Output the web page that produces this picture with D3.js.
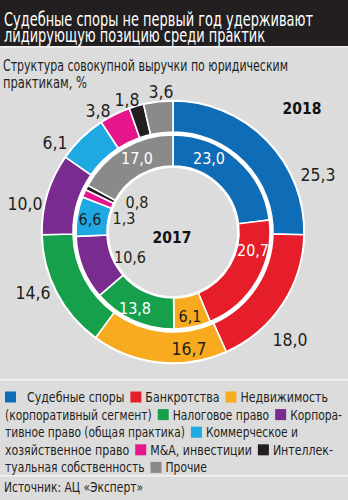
<!DOCTYPE html>
<html><head><meta charset="utf-8">
<script src="https://cdn.jsdelivr.net/npm/d3@7/dist/d3.min.js"></script>
<style>
body{margin:0;background:#dcdcdc}
svg{display:block}
text{font-family:"Liberation Sans Narrow","DejaVu Sans Condensed","Roboto",sans-serif}
</style></head>
<body>
<svg id="chart" width="348" height="500"></svg>
<script>
// ---- data ----
const categories = ["Судебные споры","Банкротства","Недвижимость (корпоративный сегмент)","Налоговое право","Корпоративное право (общая практика)","Коммерческое и хозяйственное право","M&A, инвестиции","Интеллектуальная собственность","Прочие"];
const colors = ["#0f6cb6","#e61e2a","#f8ab1e","#17a04c","#7a2b8f","#1ea9e3","#e5168b","#231f20","#8a8a8a"];
const values2018 = [25.3,18.0,16.7,14.6,10.0,6.1,3.8,1.8,3.6];
const values2017 = [23.0,20.7,6.1,13.8,10.6,6.6,1.3,0.8,17.0];
const years = ["2018","2017"];

// ---- layout constants ----
const W=348,H=500, cx=173, cy=232;
const outerR=[100,131], innerR=[66,97];
const fmt = v => d3.format(".1f")(v).replace(".",",");
// label centres (layout)
const lab2018 = [[318,175],[290,340],[189,349],[33,293],[25,204],[55,143],[98,111],[127,100],[161,92]];
const lab2017 = [[209,158],[253,250],[190,316],[135,308],[130,257],[90,219],[124,218],[137,202],[137,158]];
const labColor2018 = ["#231f20","#231f20","#231f20","#231f20","#231f20","#231f20","#231f20","#231f20","#231f20"];
const labColor2017 = ["#fff","#fff","#231f20","#fff","#231f20","#231f20","#231f20","#231f20","#fff"];

const svg = d3.select("#chart");
svg.append("rect").attr("width",W).attr("height",H).attr("fill","#dcdcdc");
svg.append("rect").attr("width",W).attr("height",46).attr("fill","#231f20");
svg.append("rect").attr("y",46).attr("width",W).attr("height",1.5).attr("fill","#f2f2f2");

const title = ["Судебные споры не первый год удерживают","лидирующую позицию среди практик"];
svg.selectAll(".t").data(title).enter().append("text")
  .attr("x",4).attr("y",(d,i)=>25.5+i*16.5)
  .attr("fill","#fff").attr("font-size",19.5)
  .attr("textLength",(d,i)=>[309,261][i]).attr("lengthAdjust","spacingAndGlyphs")
  .text(d=>d);

const sub = ["Структура совокупной выручки по юридическим","практикам, %"];
svg.selectAll(".s").data(sub).enter().append("text")
  .attr("x",3).attr("y",(d,i)=>71+i*16.5)
  .attr("fill","#231f20").attr("font-size",16)
  .attr("textLength",(d,i)=>[285,84][i]).attr("lengthAdjust","spacingAndGlyphs")
  .text(d=>d);

// ---- donut ----
const g = svg.append("g").attr("transform",`translate(${cx},${cy})`);
g.append("circle").attr("r",outerR[1]+1.2).attr("fill","#fff");
const pie = d3.pie().sort(null).value(d=>d);
const arcOuter = d3.arc().innerRadius(outerR[0]).outerRadius(outerR[1]);
const arcInner = d3.arc().innerRadius(innerR[0]).outerRadius(innerR[1]);
g.selectAll(".o").data(pie(values2018)).enter().append("path")
  .attr("d",arcOuter).attr("fill",(d,i)=>colors[i]).attr("stroke","#fff").attr("stroke-width",1.6);
g.selectAll(".i").data(pie(values2017)).enter().append("path")
  .attr("d",arcInner).attr("fill",(d,i)=>colors[i]).attr("stroke","#fff").attr("stroke-width",1.6);
g.append("circle").attr("r",innerR[0]-2).attr("fill","#dcdcdc");

function labels(vals,pos,cols,fs){
  svg.append("g").selectAll("text").data(vals).enter().append("text")
    .attr("x",(d,i)=>pos[i][0]).attr("y",(d,i)=>pos[i][1]+fs*0.36)
    .attr("text-anchor","middle").attr("font-size",fs)
    .attr("fill",(d,i)=>cols[i]).text(d=>fmt(d));
}
labels(values2018,lab2018,labColor2018,17.5);
labels(values2017,lab2017,labColor2017,16);

svg.append("text").attr("x",302).attr("y",114).attr("text-anchor","middle")
  .attr("font-size",15.5).attr("font-weight","bold").attr("fill","#111").text(years[0]);
svg.append("text").attr("x",172).attr("y",243).attr("text-anchor","middle")
  .attr("font-size",15.5).attr("font-weight","bold").attr("fill","#111").text(years[1]);

// ---- legend ----
svg.append("rect").attr("y",379).attr("width",W).attr("height",1.5).attr("fill","#f2f2f2");
svg.append("rect").attr("y",475).attr("width",W).attr("height",1.5).attr("fill","#f2f2f2");
const legendLines = [
  [{s:0},{t:"  Судебные споры"},{s:1},{t:"Банкротства"},{s:2},{t:"Недвижимость"}],
  [{t:"(корпоративный сегмент)"},{s:3},{t:"Налоговое право"},{s:4},{t:"Корпора-"}],
  [{t:"тивное право (общая практика)"},{s:5},{t:"Коммерческое и"}],
  [{t:"хозяйственное право"},{s:6},{t:"M&A, инвестиции"},{s:7},{t:"Интеллек-"}],
  [{t:"туальная собственность"},{s:8},{t:"Прочие"}]
];
const lineEnd = [328,342,298,333,207];
const sq=11, gapBefore=6, gapAfter=4;
legendLines.forEach((line,li)=>{
  const base = 402 + li*17.6;
  const lg = svg.append("g");
  const tw = line.map(tok=>{
    if(tok.t===undefined) return 0;
    const t = lg.append("text").attr("font-size",14.5).style("white-space","pre").text(tok.t);
    const w = t.node().getComputedTextLength(); t.remove(); return w;
  });
  let fixed=0, textSum=0;
  line.forEach((tok,k)=>{ if(tok.s!==undefined){ fixed += sq + (k>0?gapBefore:0) + gapAfter; } else textSum += tw[k]; });
  const k = (lineEnd[li]-5-fixed)/textSum;
  let x=5;
  line.forEach((tok,idx)=>{
    if(tok.s!==undefined){
      if(idx>0) x+=gapBefore;
      lg.append("rect").attr("x",x).attr("y",base-10.5).attr("width",sq).attr("height",sq).attr("fill",colors[tok.s]);
      x+=sq+gapAfter;
    } else {
      const w = tw[idx]*k;
      lg.append("text").attr("x",x).attr("y",base).attr("font-size",14.5).attr("fill","#231f20")
        .style("white-space","pre").attr("textLength",w).attr("lengthAdjust","spacingAndGlyphs").text(tok.t);
      x+=w;
    }
  });
});
svg.append("text").attr("x",4).attr("y",492).attr("font-size",14.5).attr("fill","#231f20")
  .attr("textLength",139).attr("lengthAdjust","spacingAndGlyphs").text("Источник: АЦ «Эксперт»");
</script>
</body></html>
